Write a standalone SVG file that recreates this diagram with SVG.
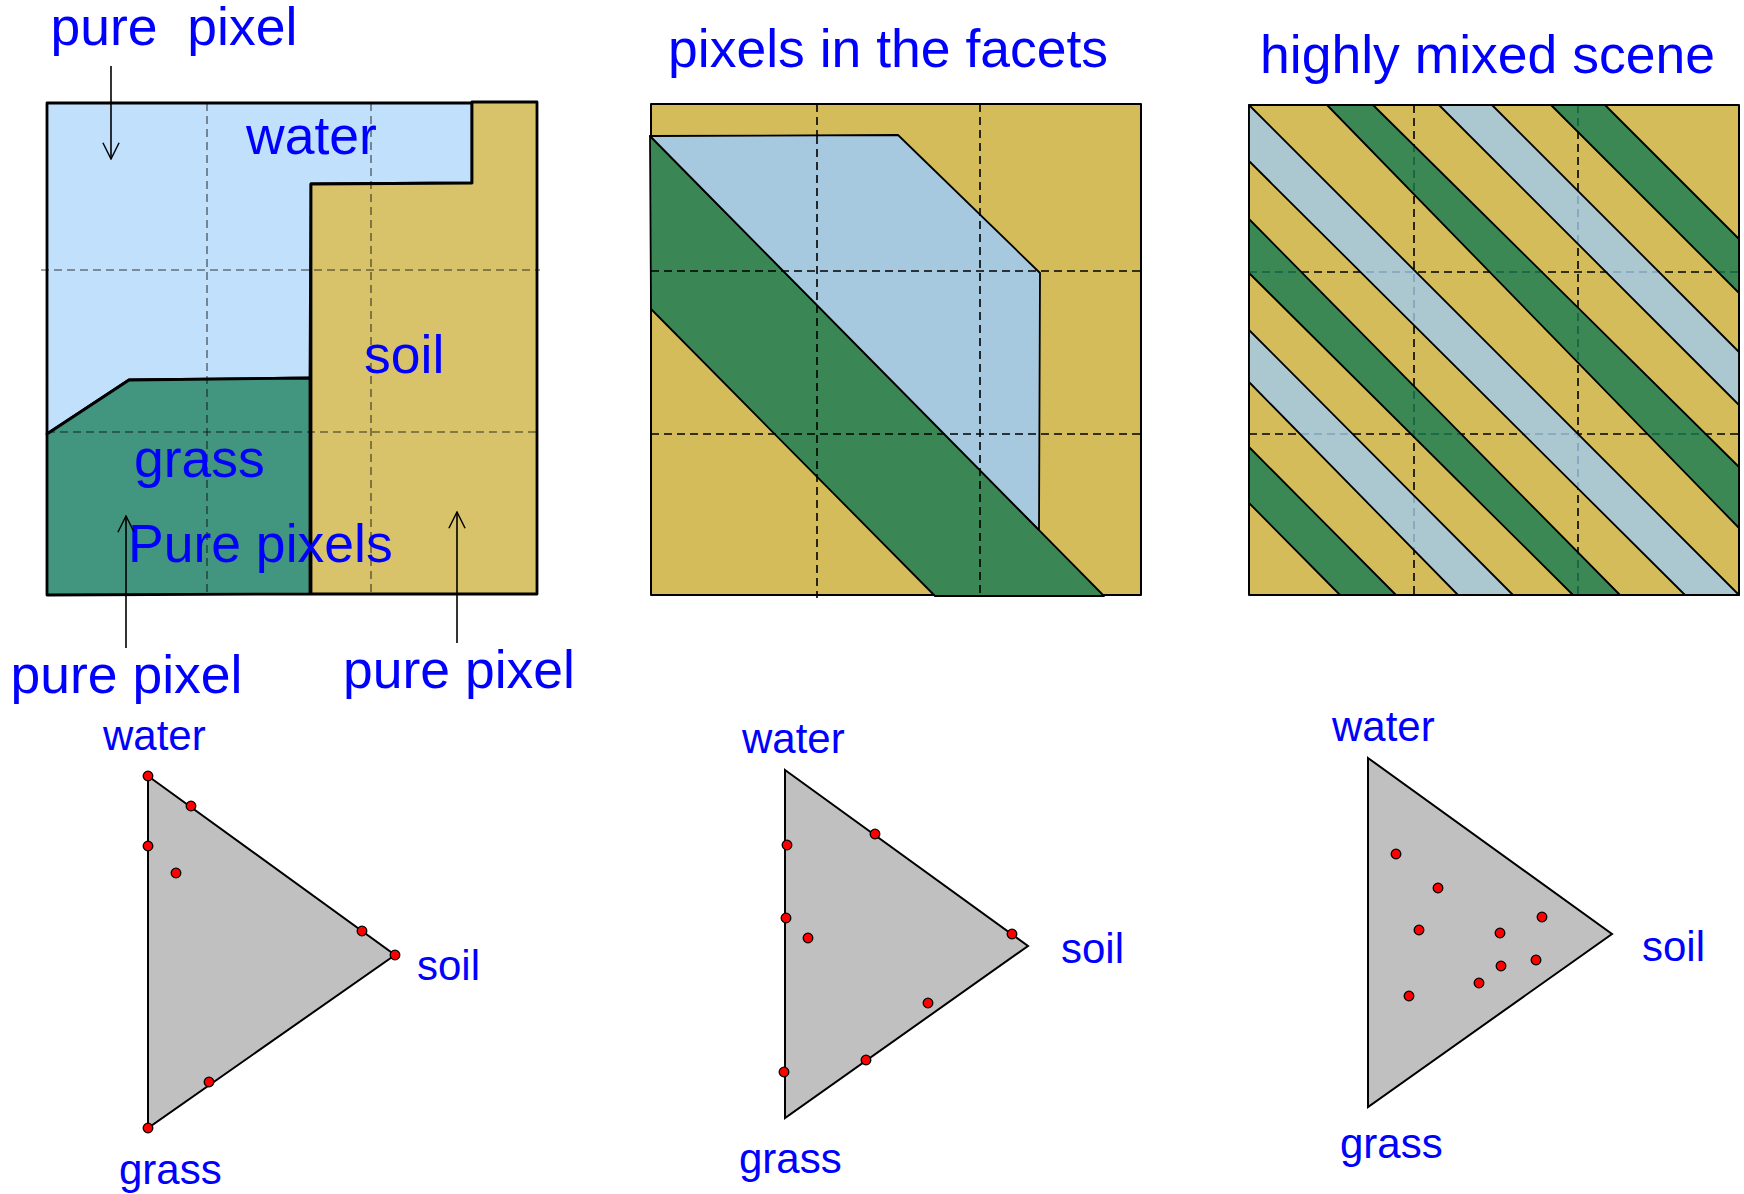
<svg xmlns="http://www.w3.org/2000/svg" width="1744" height="1194" viewBox="0 0 1744 1194">
<defs>
<style>
.lbl{font-family:"Liberation Sans",Arial,sans-serif;fill:#0000FF;}
.big{font-size:53.5px;}
.sm{font-size:42px;}
.edge{stroke:#000;stroke-width:2.8;stroke-linejoin:round;}
.facet{stroke:#000;stroke-width:1.8;stroke-linejoin:round;}
.band{stroke:#000;stroke-width:1.8;stroke-linejoin:round;fill-opacity:0.8;}
.dash{stroke:#000;stroke-width:1.6;stroke-dasharray:8 5;fill:none;}
.tri{fill:#C0C0C0;stroke:#000;stroke-width:2;}
.dot{fill:#FF0000;stroke:#000;stroke-width:1.3;}
.arr{stroke:#000;stroke-width:1.6;fill:none;marker-end:url(#vhead);}
</style>
<marker id="vhead" markerUnits="userSpaceOnUse" viewBox="0 0 20 20" refX="19" refY="10" markerWidth="18" markerHeight="20" orient="auto">
<path d="M1,1 L19,10 L1,19" fill="none" stroke="#000" stroke-width="1.6"/>
</marker>
</defs>
<rect width="1744" height="1194" fill="#FFFFFF"/>

<g id="panel-pure">
<polygon class="edge" fill="#C0E0FC" points="47,103 472,103 472,183 311,184 310,378 129,380 47,434"/>
<polygon class="edge" fill="#D8C36A" points="311,184 472,183 472,102 537,102 537,594 311,594"/>
<polygon class="edge" fill="#42957F" points="47,434 129,380 310,378 310,594 47,595"/>
<g class="dash" stroke-opacity="0.5">
<line x1="207" y1="103" x2="207" y2="597"/>
<line x1="371" y1="103" x2="371" y2="597"/>
<line x1="41" y1="270" x2="540" y2="270"/>
<line x1="47" y1="432" x2="540" y2="432"/>
</g>
<text class="lbl big" x="246" y="154">water</text>
<text class="lbl big" x="364" y="373">soil</text>
<text class="lbl big" x="134" y="477">grass</text>
<text class="lbl big" x="128" y="562">Pure pixels</text>
</g>

<g id="label-pure-top"><text class="lbl big" x="50.5" y="45" style="white-space:pre" xml:space="preserve">pure  pixel</text></g>
<g id="label-pure-left"><text class="lbl big" x="10.5" y="693">pure pixel</text></g>
<g id="label-pure-right"><text class="lbl big" x="343" y="688">pure pixel</text></g>

<g id="connectors">
<line class="arr" x1="111" y1="66" x2="111" y2="159"/>
<line class="arr" x1="126" y1="648" x2="126" y2="516"/>
<line class="arr" x1="457" y1="643" x2="457" y2="512"/>
</g>

<g id="panel-facets">
<text class="lbl big" x="668" y="67">pixels in the facets</text>
<rect class="edge" style="stroke-width:2" fill="#D4BC5A" x="651" y="104" width="490" height="491"/>
<polygon class="facet" fill="#3A8755" points="650,136 651,309 935,596 1104,596"/>
<polygon class="facet" fill="#A6C9E0" points="650,136 898,135 1040,273 1039,530"/>
<g class="dash">
<line x1="817" y1="104" x2="817" y2="136"/>
<line x1="817" y1="305" x2="817" y2="598"/>
<line x1="980" y1="104" x2="980" y2="598"/>
<line x1="651" y1="271" x2="1143" y2="271"/>
<line x1="651" y1="434" x2="1143" y2="434"/>
</g>
<line class="dash" stroke="#7FA5CF" x1="817" y1="136" x2="817" y2="305"/>
</g>

<g id="panel-mixed">
<text class="lbl big" x="1260" y="73">highly mixed scene</text>
<rect class="edge" style="stroke-width:2" fill="#D4BC5A" x="1249" y="105" width="490" height="490"/>
<g class="dash">
<line x1="1414" y1="105" x2="1414" y2="598"/>
<line x1="1578" y1="105" x2="1578" y2="598"/>
<line x1="1249" y1="272" x2="1742" y2="272"/>
<line x1="1249" y1="434" x2="1742" y2="434"/>
</g>
<polygon class="band" fill="#147A54" points="1551,105 1605,105 1739,239 1739,293"/>
<polygon class="band" fill="#A0CBEE" points="1439,105 1492,105 1739,352 1739,405"/>
<polygon class="band" fill="#147A54" points="1327,105 1373,105 1739,467 1739,528"/>
<polygon class="band" fill="#A0CBEE" points="1249,105 1249,161 1685,595 1739,595"/>
<polygon class="band" fill="#147A54" points="1249,219 1249,273 1573,595 1620,595"/>
<polygon class="band" fill="#A0CBEE" points="1249,330 1249,382 1458,595 1513,595"/>
<polygon class="band" fill="#147A54" points="1249,447 1249,503 1340,595 1396,595"/>
</g>

<g id="simplex-pure">
<polygon class="tri" points="148,776 395,955 148,1128"/>
<circle class="dot" cx="148" cy="776" r="4.8"/>
<circle class="dot" cx="191" cy="806" r="4.8"/>
<circle class="dot" cx="148" cy="846" r="4.8"/>
<circle class="dot" cx="176" cy="873" r="4.8"/>
<circle class="dot" cx="362" cy="931" r="4.8"/>
<circle class="dot" cx="395" cy="955" r="4.8"/>
<circle class="dot" cx="209" cy="1082" r="4.8"/>
<circle class="dot" cx="148" cy="1128" r="4.8"/>
<text class="lbl sm" x="103" y="750">water</text>
<text class="lbl sm" x="417" y="980">soil</text>
<text class="lbl sm" x="119" y="1184">grass</text>
</g>

<g id="simplex-facets">
<polygon class="tri" points="785,770 1028,946 785,1118"/>
<circle class="dot" cx="875" cy="834" r="4.8"/>
<circle class="dot" cx="787" cy="845" r="4.8"/>
<circle class="dot" cx="786" cy="918" r="4.8"/>
<circle class="dot" cx="808" cy="938" r="4.8"/>
<circle class="dot" cx="1012" cy="934" r="4.8"/>
<circle class="dot" cx="928" cy="1003" r="4.8"/>
<circle class="dot" cx="866" cy="1060" r="4.8"/>
<circle class="dot" cx="784" cy="1072" r="4.8"/>
<text class="lbl sm" x="742" y="753">water</text>
<text class="lbl sm" x="1061" y="963">soil</text>
<text class="lbl sm" x="739" y="1173">grass</text>
</g>

<g id="simplex-mixed">
<polygon class="tri" points="1368,758 1612,934 1368,1107"/>
<circle class="dot" cx="1396" cy="854" r="4.8"/>
<circle class="dot" cx="1438" cy="888" r="4.8"/>
<circle class="dot" cx="1419" cy="930" r="4.8"/>
<circle class="dot" cx="1500" cy="933" r="4.8"/>
<circle class="dot" cx="1542" cy="917" r="4.8"/>
<circle class="dot" cx="1501" cy="966" r="4.8"/>
<circle class="dot" cx="1536" cy="960" r="4.8"/>
<circle class="dot" cx="1479" cy="983" r="4.8"/>
<circle class="dot" cx="1409" cy="996" r="4.8"/>
<text class="lbl sm" x="1332" y="741">water</text>
<text class="lbl sm" x="1642" y="961">soil</text>
<text class="lbl sm" x="1340" y="1158">grass</text>
</g>
</svg>
